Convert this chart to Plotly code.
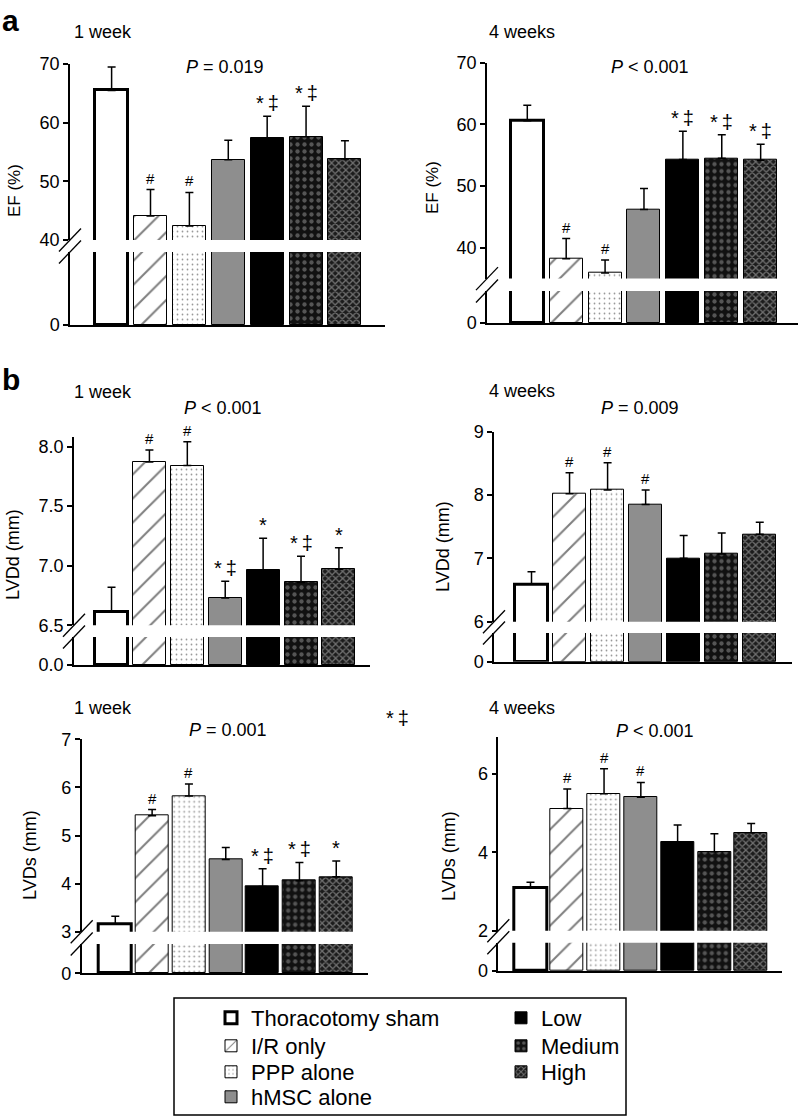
import plotly.graph_objects as go

W, H = 802, 1117
FONT = "Liberation Sans, Arial, Helvetica, sans-serif"

# ---------------- data ----------------
groups = ["Thoracotomy sham", "I/R only", "PPP alone", "hMSC alone", "Low", "Medium", "High"]

ef_1w_mean = [65.5, 44.1, 42.4, 53.7, 57.4, 57.6, 53.8]
ef_1w_err = [4.0, 4.5, 5.7, 3.3, 3.7, 5.2, 3.1]
ef_1w_sig = ["", "#", "#", "", "*\u2009\u2021", "*\u2009\u2021", ""]

ef_4w_mean = [60.6, 38.2, 35.9, 46.2, 54.3, 54.5, 54.2]
ef_4w_err = [2.5, 3.3, 2.1, 3.4, 4.6, 3.8, 2.6]
ef_4w_sig = ["", "#", "#", "", "*\u2009\u2021", "*\u2009\u2021", "*\u2009\u2021"]

lvdd_1w_mean = [6.61, 7.87, 7.84, 6.73, 6.96, 6.86, 6.97]
lvdd_1w_err = [0.21, 0.10, 0.20, 0.14, 0.27, 0.22, 0.18]
lvdd_1w_sig = ["", "#", "#", "*\u2009\u2021", "*", "*\u2009\u2021", "*"]

lvdd_4w_mean = [6.59, 8.02, 8.08, 7.85, 7.00, 7.07, 7.38]
lvdd_4w_err = [0.20, 0.33, 0.43, 0.23, 0.36, 0.33, 0.19]
lvdd_4w_sig = ["", "#", "#", "#", "", "", ""]

lvds_1w_mean = [3.16, 5.41, 5.82, 4.50, 3.94, 4.06, 4.14]
lvds_1w_err = [0.16, 0.13, 0.25, 0.25, 0.37, 0.38, 0.33]
lvds_1w_sig = ["", "#", "#", "", "*\u2009\u2021", "*\u2009\u2021", "*"]

lvds_4w_mean = [3.10, 5.12, 5.50, 5.41, 4.26, 4.02, 4.50]
lvds_4w_err = [0.14, 0.50, 0.64, 0.38, 0.44, 0.46, 0.24]
lvds_4w_sig = ["", "#", "#", "#", "", "", ""]

panel_titles = ["1 week", "4 weeks", "1 week", "4 weeks", "1 week", "4 weeks"]
p_texts = ["<i>P</i> = 0.019", "<i>P</i> < 0.001", "<i>P</i> < 0.001",
           "<i>P</i> = 0.009", "<i>P</i> = 0.001", "<i>P</i> < 0.001"]
y_titles = ["EF (%)", "EF (%)", "LVDd (mm)", "LVDd (mm)", "LVDs (mm)", "LVDs (mm)"]

ef_ticks = [40, 50, 60, 70]
lvdd_1w_ticks = [6.5, 7.0, 7.5, 8.0]
lvdd_4w_ticks = [6, 7, 8, 9]
lvds_1w_ticks = [3, 4, 5, 6, 7]
lvds_4w_ticks = [2, 4, 6]

# ---------------- layout geometry (pixels) ----------------
panels = [
    dict(mean=ef_1w_mean, err=ef_1w_err, sig=ef_1w_sig, ticks=ef_ticks, fmt="d", zero="0",
         x0=70, x1=385, ut=64, ub=240, lt=252, lb=325, yr=[40, 70], xr=[-1.07, 7.03], pitch=38.9,
         title=(103, 32), ptxt=(225, 67), ytit=(14, 190), ytsize=17),
    dict(mean=ef_4w_mean, err=ef_4w_err, sig=ef_4w_sig, ticks=ef_ticks, fmt="d", zero="0",
         x0=487, x1=798, ut=62.7, ub=278.6, lt=291, lb=323, yr=[35, 70], xr=[-1.036, 6.96], pitch=38.9,
         title=(522, 32), ptxt=(650, 67), ytit=(432, 188), ytsize=17),
    dict(mean=lvdd_1w_mean, err=lvdd_1w_err, sig=lvdd_1w_sig, ticks=lvdd_1w_ticks, fmt=".1f", zero="0.0",
         x0=74, x1=370, ut=437, ub=625.3, lt=637, lb=665, yr=[6.5, 8.08], xr=[-0.99, 6.82], pitch=37.9,
         title=(103, 392), ptxt=(223, 408), ytit=(13, 555), ytsize=18),
    dict(mean=lvdd_4w_mean, err=lvdd_4w_err, sig=lvdd_4w_sig, ticks=lvdd_4w_ticks, fmt="d", zero="0",
         x0=494, x1=791.7, ut=431.7, ub=621.7, lt=633, lb=661.7, yr=[6, 9], xr=[-0.986, 6.84], pitch=38.03,
         title=(522, 391), ptxt=(640, 408), ytit=(443, 546), ytsize=18),
    dict(mean=lvds_1w_mean, err=lvds_1w_err, sig=lvds_1w_sig, ticks=lvds_1w_ticks, fmt="d", zero="0",
         x0=81.7, x1=368.3, ut=739.3, ub=931.7, lt=944, lb=973.3, yr=[3, 7], xr=[-0.912, 6.87], pitch=36.83,
         title=(103, 708), ptxt=(228, 730), ytit=(30, 855), ytsize=18),
    dict(mean=lvds_4w_mean, err=lvds_4w_err, sig=lvds_4w_sig, ticks=lvds_4w_ticks, fmt="d", zero="0",
         x0=498.3, x1=781.7, ut=737, ub=930.7, lt=942.7, lb=971, yr=[2, 6.95], xr=[-0.875, 6.83], pitch=36.8,
         title=(522, 708), ptxt=(655, 731), ytit=(449, 856), ytsize=18),
]

# legend entry positions (text left edge x, row centre y), one legend per entry
legend_pos = [(253, 1018), (253, 1046), (253, 1072), (253, 1097),
              (543, 1018), (543, 1046), (543, 1072)]


def px(x):
    return x / W


def py(y):
    return 1 - y / H


def marker_for(i):
    thin = dict(color="black", width=1)
    if i == 0:
        return dict(color="white", line=dict(color="black", width=3))
    if i == 1:
        return dict(color="white", line=thin,
                    pattern=dict(shape="/", fgcolor="black", bgcolor="white", size=17, solidity=0.12))
    if i == 2:
        return dict(color="white", line=thin,
                    pattern=dict(shape=".", fgcolor="#333333", bgcolor="white", size=5, solidity=0.1))
    if i == 3:
        return dict(color="#8e8e8e", line=thin)
    if i == 4:
        return dict(color="black", line=thin)
    if i == 5:
        return dict(color="#111111", line=thin,
                    pattern=dict(shape=".", fgcolor="#9a9a9a", bgcolor="#111111", size=7, solidity=0.3))
    return dict(color="#222222", line=thin,
                pattern=dict(shape="x", fgcolor="#c4c4c4", bgcolor="#1c1c1c", size=5, solidity=0.45))


def legend_id(i):
    return "legend" if i == 0 else f"legend{i + 1}"


fig = go.Figure()
layout = dict(
    width=W, height=H, margin=dict(l=0, r=0, t=0, b=0, autoexpand=False),
    paper_bgcolor="white", plot_bgcolor="white",
    font=dict(family=FONT, size=17, color="black"),
    showlegend=True, bargap=0,
)
annotations = []
shapes = []

for p, pn in enumerate(panels):
    ua = 2 * p + 1  # upper axes id
    la = 2 * p + 2  # lower axes id
    bw = 33 / pn["pitch"]
    lo_top = pn["yr"][0] * 0.25
    for part, aid in (("up", ua), ("lo", la)):
        xname = "x" if aid == 1 else f"x{aid}"
        yname = "y" if aid == 1 else f"y{aid}"
        for i, g in enumerate(groups):
            show = (p == 0 and part == "up")
            tr = go.Bar(
                x=[g], y=[pn["mean"][i]], width=bw,
                marker=marker_for(i),
                name=g, legendgroup=g, showlegend=show, legend=legend_id(i),
                xaxis=xname, yaxis=yname, hoverinfo="skip",
            )
            if part == "up":
                tr.error_y = dict(type="data", symmetric=False, array=[pn["err"][i]],
                                  arrayminus=[0], color="black", thickness=1.5, width=4)
            fig.add_trace(tr)
        xdom = [px(pn["x0"]), px(pn["x1"])]
        common_y = dict(showline=True, linecolor="black", linewidth=1.5,
                        ticks="outside", ticklen=5, tickwidth=1.5, tickcolor="black",
                        showgrid=False, zeroline=False, tickfont=dict(size=18), automargin=False)
        if part == "up":
            ydom = [py(pn["ub"]), py(pn["ut"])]
            layout[f"xaxis{aid}"] = dict(domain=xdom, range=pn["xr"], visible=False, anchor=yname,
                                         type="category", categoryorder="array", categoryarray=groups)
            layout[f"yaxis{aid}"] = dict(domain=ydom, range=pn["yr"], anchor=xname,
                                         tickvals=pn["ticks"], tickformat=pn["fmt"], **common_y)
        else:
            ydom = [py(pn["lb"]), py(pn["lt"])]
            layout[f"xaxis{aid}"] = dict(domain=xdom, range=pn["xr"], anchor=yname,
                                         type="category", categoryorder="array", categoryarray=groups,
                                         showline=True, linecolor="black", linewidth=1.5,
                                         ticks="", showticklabels=False, showgrid=False, zeroline=False,
                                         automargin=False)
            layout[f"yaxis{aid}"] = dict(domain=ydom, range=[0, lo_top], anchor=xname,
                                         tickvals=[0], ticktext=[pn["zero"]], **common_y)
    # significance markers
    uxname = "x" if ua == 1 else f"x{ua}"
    uyname = "y" if ua == 1 else f"y{ua}"
    for i, g in enumerate(groups):
        s = pn["sig"][i]
        if s:
            big = s != "#"
            annotations.append(dict(
                x=g, y=pn["mean"][i] + pn["err"][i], xref=uxname, yref=uyname,
                text=s, showarrow=False, yanchor="bottom", yshift=0 if big else 1,
                font=dict(size=20 if big else 15)))
    # break marks
    for cy in (pn["ub"], pn["lt"]):
        shapes.append(dict(type="line", xref="paper", yref="paper",
                           x0=px(pn["x0"] - 11), y0=py(cy + 11.5),
                           x1=px(pn["x0"] + 11), y1=py(cy - 11.5),
                           line=dict(color="black", width=1.3)))
    # texts
    annotations.append(dict(x=px(pn["title"][0]), y=py(pn["title"][1]), xref="paper", yref="paper",
                            text=panel_titles[p], showarrow=False, xanchor="center", yanchor="middle",
                            font=dict(size=18)))
    annotations.append(dict(x=px(pn["ptxt"][0]), y=py(pn["ptxt"][1]), xref="paper", yref="paper",
                            text=p_texts[p], showarrow=False, xanchor="center", yanchor="middle",
                            font=dict(size=18)))
    annotations.append(dict(x=px(pn["ytit"][0]), y=py(pn["ytit"][1]), xref="paper", yref="paper",
                            text=y_titles[p], showarrow=False, xanchor="center", yanchor="middle",
                            textangle=-90, font=dict(size=pn["ytsize"], color="black")))

# panel letters and stray mark
annotations.append(dict(x=px(0), y=py(21), xref="paper", yref="paper", text="<b>a</b>",
                        showarrow=False, xanchor="left", yanchor="middle", font=dict(size=30)))
annotations.append(dict(x=px(0), y=py(379), xref="paper", yref="paper", text="<b>b</b>",
                        showarrow=False, xanchor="left", yanchor="middle", font=dict(size=30)))
annotations.append(dict(x=px(397), y=py(718), xref="paper", yref="paper", text="*\u2009\u2021",
                        showarrow=False, xanchor="center", yanchor="middle", font=dict(size=20)))

# legend box
shapes.append(dict(type="rect", xref="paper", yref="paper", x0=px(174), y0=py(1115),
                   x1=px(626), y1=py(998), line=dict(color="black", width=1.5)))

layout["annotations"] = annotations
layout["shapes"] = shapes
for i, (tx, ty) in enumerate(legend_pos):
    layout[legend_id(i)] = dict(x=px(tx - 42), y=py(ty), xanchor="left", yanchor="middle",
                                bgcolor="rgba(0,0,0,0)", borderwidth=0, tracegroupgap=0,
                                font=dict(size=22), itemclick=False, itemdoubleclick=False)
fig.update_layout(**layout)
fig.write_html("out.html", config={"displayModeBar": False},
               post_script="document.body.style.margin='0px';")
